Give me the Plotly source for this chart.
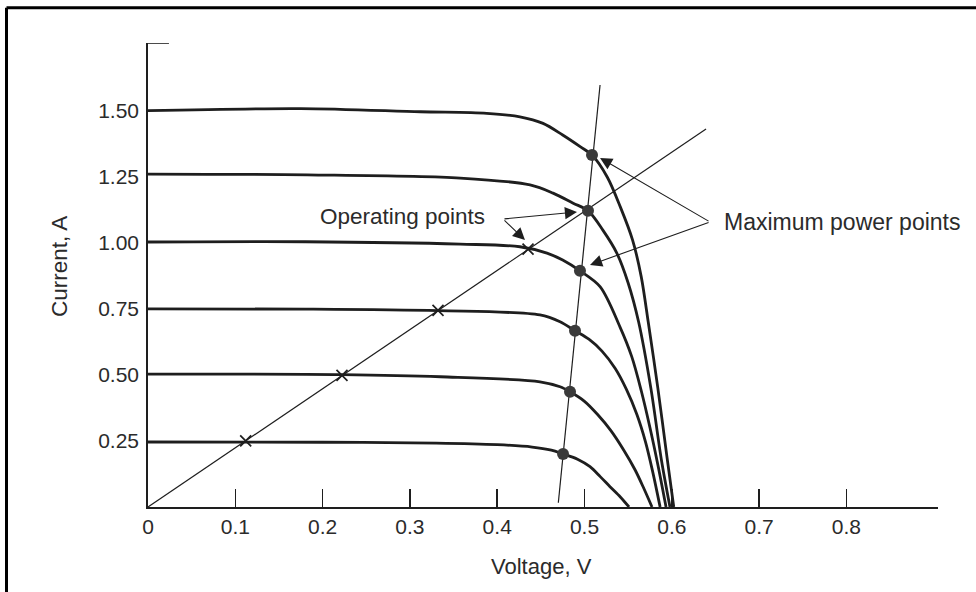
import plotly.graph_objects as go

# ---------------- data ----------------
# I-V curves (voltage V, current A), one per short-circuit current level
v_025 = [0, 0.20, 0.33, 0.40, 0.44, 0.462, 0.4754, 0.492, 0.5063, 0.518, 0.5292, 0.541, 0.551]
i_025 = [0.246, 0.245, 0.242, 0.236, 0.227, 0.215, 0.2006, 0.181, 0.1525, 0.115, 0.077, 0.038, 0.0]

v_050 = [0, 0.2222, 0.335, 0.449, 0.472, 0.4834, 0.500, 0.515, 0.530, 0.545, 0.558, 0.568, 0.5773]
i_050 = [0.503, 0.501, 0.493, 0.474, 0.455, 0.436, 0.400, 0.350, 0.290, 0.215, 0.140, 0.070, 0.0]

v_075 = [0, 0.18, 0.3322, 0.449, 0.472, 0.4891, 0.505, 0.520, 0.535, 0.548, 0.560, 0.570, 0.578, 0.5866]
i_075 = [0.750, 0.749, 0.743, 0.727, 0.701, 0.667, 0.635, 0.590, 0.525, 0.445, 0.350, 0.245, 0.135, 0.0]

v_100 = [0, 0.18, 0.3576, 0.426, 0.457, 0.475, 0.4948, 0.5178, 0.5407, 0.554, 0.565, 0.575, 0.584, 0.5934]
i_100 = [1.003, 1.004, 0.995, 0.985, 0.961, 0.935, 0.894, 0.834, 0.681, 0.570, 0.440, 0.300, 0.160, 0.0]

v_125 = [0, 0.1825, 0.3576, 0.4376, 0.464, 0.487, 0.504, 0.521, 0.537, 0.550, 0.562, 0.576, 0.588, 0.5979]
i_125 = [1.260, 1.257, 1.245, 1.219, 1.188, 1.150, 1.1215, 1.048, 0.961, 0.848, 0.700, 0.450, 0.180, 0.0]

v_150 = [0, 0.175, 0.312, 0.388, 0.426, 0.4525, 0.475, 0.495, 0.5086, 0.526, 0.541, 0.555, 0.565, 0.573, 0.584, 0.594, 0.6022]
i_150 = [1.500, 1.508, 1.496, 1.490, 1.477, 1.452, 1.408, 1.364, 1.332, 1.249, 1.136, 1.011, 0.871, 0.700, 0.450, 0.200, 0.0]

# maximum power points (dots) and the line through them
mpp_v = [0.4754, 0.4834, 0.4891, 0.4948, 0.504, 0.5086]
mpp_i = [0.2006, 0.436, 0.667, 0.894, 1.1215, 1.332]
mpp_line_v = [0.470, 0.5178]
mpp_line_i = [0.0163, 1.597]

# load line and operating points (crosses)
load_v = [0, 0.6392]
load_i = [0, 1.4307]
op_v = [0.1119, 0.2222, 0.3322, 0.4353]
op_i = [0.250, 0.498, 0.744, 0.976]

# axes ticks
x_ticks = [0, 0.1, 0.2, 0.3, 0.4, 0.5, 0.6, 0.7, 0.8, 0.9045]
x_tick_text = ["0", "0.1", "0.2", "0.3", "0.4", "0.5", "0.6", "0.7", "0.8", ""]
y_ticks = [0.25, 0.50, 0.75, 1.00, 1.25, 1.50]
y_tick_text = ["0.25", "0.50", "0.75", "1.00", "1.25", "1.50"]
y_top = 1.7562

# annotation arrows: (tail_v, tail_i, head_v, head_i)
op_arrows = [(0.4066, 1.090, 0.4914, 1.1166), (0.4066, 1.090, 0.4318, 1.0106)]
mpp_arrows = [(0.6438, 1.0787, 0.5178, 1.321), (0.6438, 1.0787, 0.5063, 0.916)]

# ---------------- figure ----------------
FONT = "Liberation Sans, Arial, Helvetica, sans-serif"
INK = "#1e1e1e"
TXT = "#2b2b2b"

fig = go.Figure()

for v, i in [(v_025, i_025), (v_050, i_050), (v_075, i_075),
             (v_100, i_100), (v_125, i_125), (v_150, i_150)]:
    fig.add_trace(go.Scatter(x=v, y=i, mode="lines",
                             line=dict(color=INK, width=2.8, shape="spline", smoothing=0.9),
                             hoverinfo="skip", cliponaxis=False))

fig.add_trace(go.Scatter(x=load_v, y=load_i, mode="lines",
                         line=dict(color=INK, width=1.2), hoverinfo="skip", cliponaxis=False))
fig.add_trace(go.Scatter(x=mpp_line_v, y=mpp_line_i, mode="lines",
                         line=dict(color=INK, width=1.2), hoverinfo="skip", cliponaxis=False))

fig.add_trace(go.Scatter(x=mpp_v, y=mpp_i, mode="markers",
                         marker=dict(size=12, color="#3a3a3a", line=dict(width=0)),
                         hoverinfo="skip", cliponaxis=False))
fig.add_trace(go.Scatter(x=op_v, y=op_i, mode="markers",
                         marker=dict(size=11, symbol="x-thin", color=INK,
                                     line=dict(width=1.7, color=INK)),
                         hoverinfo="skip", cliponaxis=False))

annotations = []
for tv, ti, hv, hi in op_arrows + mpp_arrows:
    annotations.append(dict(x=hv, y=hi, ax=tv, ay=ti, xref="x", yref="y",
                            axref="x", ayref="y", text="", showarrow=True,
                            arrowhead=2, arrowsize=2.2, arrowwidth=1.1,
                            arrowcolor=INK, standoff=0, startstandoff=0))

annotations.append(dict(x=0.195, y=1.1014, xref="x", yref="y", text="Operating points",
                        showarrow=False, xanchor="left", yanchor="middle",
                        font=dict(family=FONT, size=22.5, color=TXT)))
annotations.append(dict(x=0.6570, y=1.0806, xref="x", yref="y", text="Maximum power points",
                        showarrow=False, xanchor="left", yanchor="middle",
                        font=dict(family=FONT, size=23, color=TXT)))
annotations.append(dict(x=0.4981, y=-0.1293, xref="paper", yref="paper", text="Voltage, V",
                        showarrow=False, xanchor="center", yanchor="middle",
                        font=dict(family=FONT, size=22, color=TXT)))
annotations.append(dict(x=-0.1114, y=0.5194, xref="paper", yref="paper", text="Current, A",
                        showarrow=False, xanchor="center", yanchor="middle", textangle=-90,
                        font=dict(family=FONT, size=22.5, color=TXT)))

shapes = [
    # page frame (left and top edges visible in the reference)
    dict(type="line", xref="paper", yref="paper", x0=-0.17911, y0=-0.3, x1=-0.17911, y1=1.07586,
         line=dict(color="#000", width=3)),
    dict(type="line", xref="paper", yref="paper", x0=-0.17911, y0=1.07586, x1=1.2, y1=1.07586,
         line=dict(color="#000", width=3)),
    # short tick at the top end of the current axis
    dict(type="line", xref="x", yref="y", x0=0, y0=y_top, x1=0.024, y1=y_top,
         line=dict(color=INK, width=1.6)),
]

fig.update_layout(
    width=976, height=592,
    margin=dict(l=148, r=38, t=43, b=85, pad=0),
    paper_bgcolor="white", plot_bgcolor="white",
    showlegend=False,
    annotations=annotations,
    shapes=shapes,
    font=dict(family=FONT, size=21, color=TXT),
    xaxis=dict(range=[0, 0.9049], tickvals=x_ticks, ticktext=x_tick_text,
               showgrid=False, zeroline=False, showline=True, linecolor=INK, linewidth=1.8,
               ticks="inside", ticklen=18, tickwidth=1.6, tickcolor=INK,
               tickfont=dict(family=FONT, size=21, color=TXT), fixedrange=True),
    yaxis=dict(range=[0, y_top], tickvals=y_ticks, ticktext=y_tick_text,
               showgrid=False, zeroline=False, showline=True, linecolor=INK, linewidth=1.8,
               ticks="", ticklabelstandoff=3,
               tickfont=dict(family=FONT, size=21, color=TXT), fixedrange=True),
)

fig.write_html("out.html", config={"displayModeBar": False, "staticPlot": True},
               post_script="document.body.style.margin='0px';")
